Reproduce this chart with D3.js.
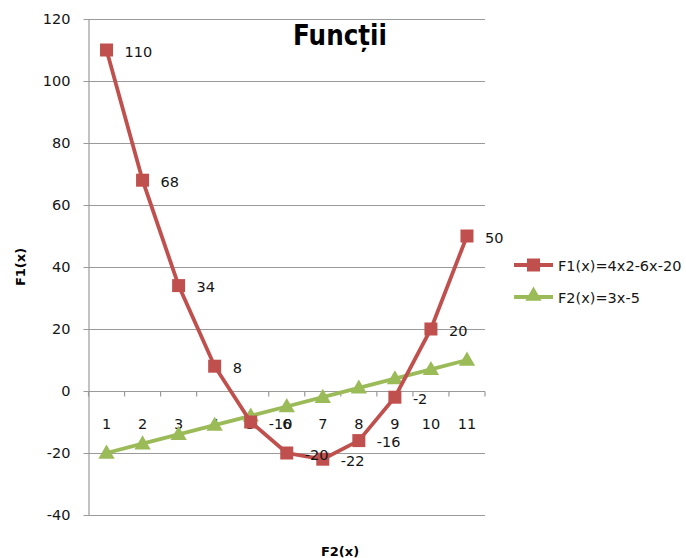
<!DOCTYPE html>
<html><head><meta charset="utf-8">
<script src="https://cdn.jsdelivr.net/npm/d3@7/dist/d3.min.js"></script>
<style>body{margin:0;background:#fff}text{font-family:"DejaVu Sans",sans-serif}</style>
</head><body><svg id="c" width="686" height="558"></svg>
<script>
const categories = ["1","2","3","4","5","6","7","8","9","10","11"];
const f1Values = [110, 68, 34, 8, -10, -20, -22, -16, -2, 20, 50];
const f2Values = [-20, -17, -14, -11, -8, -5, -2, 1, 4, 7, 10];
const yTicks = [-40, -20, 0, 20, 40, 60, 80, 100, 120];
const seriesNames = ["F1(x)=4x2-6x-20", "F2(x)=3x-5"];
const titleText = "Funcții", xTitle = "F2(x)", yTitle = "F1(x)";

const svg = d3.select("#c");
const L = 88.5, R = 485, T = 19, B = 515;
const x = d3.scaleBand().domain(categories).range([L, R]);
const y = d3.scaleLinear().domain([-40, 120]).range([B, T]);
const red = "#C0504D", green = "#9BBB59", grid = "#9a9a9a", txt = "#151515";
const fs = 14.5;

// gridlines
svg.append("g").selectAll("line").data(yTicks).join("line")
  .attr("x1", L - 5).attr("x2", R).attr("y1", d => Math.round(y(d)) + 0.5).attr("y2", d => Math.round(y(d)) + 0.5)
  .attr("stroke", grid).attr("stroke-width", 1.2);
// y axis
const ya = svg.append("g").attr("transform", `translate(${L},0)`)
  .call(d3.axisLeft(y).tickValues(yTicks).tickFormat(d => String(d)).tickSize(0).tickPadding(18));
ya.select(".domain").attr("stroke", grid).attr("stroke-width", 1.2);
ya.selectAll("text").attr("font-size", fs).attr("fill", txt).attr("font-family", "DejaVu Sans");
// x axis at y=0
const y0 = Math.round(y(0)) + 0.5;
svg.append("line").attr("x1", L).attr("x2", R).attr("y1", y0).attr("y2", y0).attr("stroke", grid).attr("stroke-width", 1.2);
const bounds = categories.map((c) => x(c)).concat([R]);
svg.append("g").selectAll("line").data(bounds).join("line")
  .attr("x1", d => d).attr("x2", d => d).attr("y1", y0).attr("y2", y0 + 5).attr("stroke", grid).attr("stroke-width", 1.2);
svg.append("g").selectAll("text").data(categories).join("text")
  .attr("x", d => x(d) + x.bandwidth() / 2).attr("y", y0 + 37).attr("text-anchor", "middle")
  .attr("font-size", fs).attr("fill", txt).text(d => d);

const cx = (d, i) => x(categories[i]) + x.bandwidth() / 2;
const line = d3.line().x((d, i) => cx(d, i)).y(d => y(d));

// F2 green
svg.append("path").datum(f2Values).attr("d", line).attr("fill", "none").attr("stroke", green).attr("stroke-width", 3.8);
const tri = d3.symbol().type(d3.symbolTriangle).size(115);
svg.append("g").selectAll("path").data(f2Values).join("path")
  .attr("d", tri).attr("transform", (d, i) => `translate(${cx(d, i)},${y(d) + 1})`).attr("fill", green);

// F1 red
svg.append("path").datum(f1Values).attr("d", line).attr("fill", "none").attr("stroke", red).attr("stroke-width", 3.8);
svg.append("g").selectAll("rect").data(f1Values).join("rect")
  .attr("x", (d, i) => cx(d, i) - 6.5).attr("y", d => y(d) - 6.5).attr("width", 13).attr("height", 13).attr("fill", red);
svg.append("g").selectAll("text").data(f1Values).join("text")
  .attr("x", (d, i) => cx(d, i) + 18).attr("y", d => y(d) + 6.5).attr("font-size", fs).attr("fill", txt).text(d => String(d));

// titles
svg.append("text").attr("x", 340).attr("y", 45).attr("text-anchor", "middle").attr("font-family", "Liberation Sans")
  .attr("font-size", 29).attr("font-weight", "bold").attr("fill", "#000")
  .attr("textLength", 94).attr("lengthAdjust", "spacingAndGlyphs").text(titleText);
svg.append("text").attr("x", 340).attr("y", 556).attr("text-anchor", "middle").attr("font-size", 13).attr("font-weight", "bold").attr("fill", "#000").text(xTitle);
svg.append("text").attr("transform", "translate(25,267) rotate(-90)").attr("text-anchor", "middle").attr("font-size", 13).attr("font-weight", "bold").attr("fill", "#000").text(yTitle);

// legend
const lg = svg.append("g");
const ly = [265, 297];
seriesNames.forEach((n, i) => {
  const c = i === 0 ? red : green;
  lg.append("line").attr("x1", 514).attr("x2", 553).attr("y1", ly[i]).attr("y2", ly[i]).attr("stroke", c).attr("stroke-width", 3.8);
  if (i === 0) lg.append("rect").attr("x", 527).attr("y", ly[i] - 6.5).attr("width", 13).attr("height", 13).attr("fill", c);
  else lg.append("path").attr("d", tri).attr("transform", `translate(533.5,${ly[i] - 1})`).attr("fill", c);
  lg.append("text").attr("x", 558).attr("y", ly[i] + 5.5).attr("font-size", fs).attr("fill", txt).text(n);
});
</script></body></html>
